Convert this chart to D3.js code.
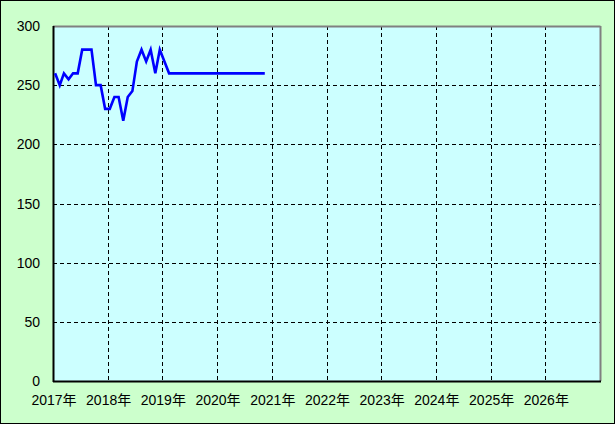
<!DOCTYPE html>
<html><head><meta charset="utf-8">
<script src="https://cdn.jsdelivr.net/npm/d3@7"></script>
<style>
html,body{margin:0;padding:0;background:#fff;}
svg{display:block;}
text{font-family:"Liberation Sans","Noto Sans CJK JP",sans-serif;font-size:14px;fill:#000;}
</style></head>
<body>
<script>
// Data
const startYear = 2017;
const endYear = 2027;
const months = [
  "2017-01","2017-02","2017-03","2017-04","2017-05","2017-06","2017-07","2017-08","2017-09","2017-10","2017-11","2017-12",
  "2018-01","2018-02","2018-03","2018-04","2018-05","2018-06","2018-07","2018-08","2018-09","2018-10","2018-11","2018-12",
  "2019-01","2019-02","2019-03","2019-04","2019-05","2019-06","2019-07","2019-08","2019-09","2019-10","2019-11","2019-12",
  "2020-01","2020-02","2020-03","2020-04","2020-05","2020-06","2020-07","2020-08","2020-09","2020-10","2020-11"
];
const values = [
  260,250,260,255,260,260,280,280,280,250,250,230,
  230,240,240,220,240,245,270,280,270,280,260,280,
  270,260,260,260,260,260,260,260,260,260,260,260,
  260,260,260,260,260,260,260,260,260,260,260
];
const yTicks = [0,50,100,150,200,250,300];
const xTickYears = [2017,2018,2019,2020,2021,2022,2023,2024,2025,2026];

const W = 615, H = 424;
const L = 53, R = 600, T = 26, B = 381;

const svg = d3.select("body").append("svg").attr("width", W).attr("height", H);
svg.append("rect").attr("x",0.5).attr("y",0.5).attr("width",W-1).attr("height",H-1)
  .attr("fill","#CCFFCC").attr("stroke","#000").attr("stroke-width",1);

const parse = d3.timeParse("%Y-%m-%d");
const x = d3.scaleTime().domain([new Date(startYear,0,1), new Date(endYear,0,1)]).range([L, R]);
const y = d3.scaleLinear().domain([0,300]).range([B, T]);

svg.append("rect").attr("x",L).attr("y",T).attr("width",R-L).attr("height",B-T).attr("fill","#CCFFFF");

// grid
const g = svg.append("g");
yTicks.filter(v => v > 0 && v < 300).forEach(v => {
  g.append("line").attr("x1",L).attr("x2",R).attr("y1",Math.round(y(v))+0.5).attr("y2",Math.round(y(v))+0.5)
    .attr("stroke","#000").attr("stroke-dasharray","4,3").attr("stroke-width",1);
});
xTickYears.filter(yr => yr > startYear).forEach(yr => {
  const px = Math.round(x(new Date(yr,0,1)))+0.5;
  g.append("line").attr("x1",px).attr("x2",px).attr("y1",T).attr("y2",B)
    .attr("stroke","#000").attr("stroke-dasharray","4,3").attr("stroke-width",1);
});

// frame: top/right gray, left/bottom black
svg.append("line").attr("x1",L).attr("x2",R+0.5).attr("y1",T+0.5).attr("y2",T+0.5).attr("stroke","#808080").attr("stroke-width",2);
svg.append("line").attr("x1",R+0.5).attr("x2",R+0.5).attr("y1",T).attr("y2",B).attr("stroke","#808080").attr("stroke-width",2);
svg.append("line").attr("x1",L+0.5).attr("x2",L+0.5).attr("y1",T).attr("y2",B+1).attr("stroke","#000").attr("stroke-width",2);
svg.append("line").attr("x1",L).attr("x2",R+1).attr("y1",B+0.5).attr("y2",B+0.5).attr("stroke","#000").attr("stroke-width",2);

// line
const data = months.map((m,i) => ({d: parse(m + "-15"), v: values[i]}));
svg.append("path").datum(data)
  .attr("fill","none").attr("stroke","#0000FF").attr("stroke-width",2.6)
  .attr("stroke-linejoin","miter")
  .attr("d", d3.line().x(d => x(d.d)).y(d => y(d.v)));

// y labels
yTicks.forEach(v => {
  svg.append("text").attr("x",40).attr("y",y(v)).attr("dy","0.36em").attr("text-anchor","end").text(v);
});
// x labels
xTickYears.forEach(yr => {
  svg.append("text").attr("x",x(new Date(yr,0,1))+1).attr("y",405).attr("text-anchor","middle").text(yr + "年");
});
</script>
</body></html>
